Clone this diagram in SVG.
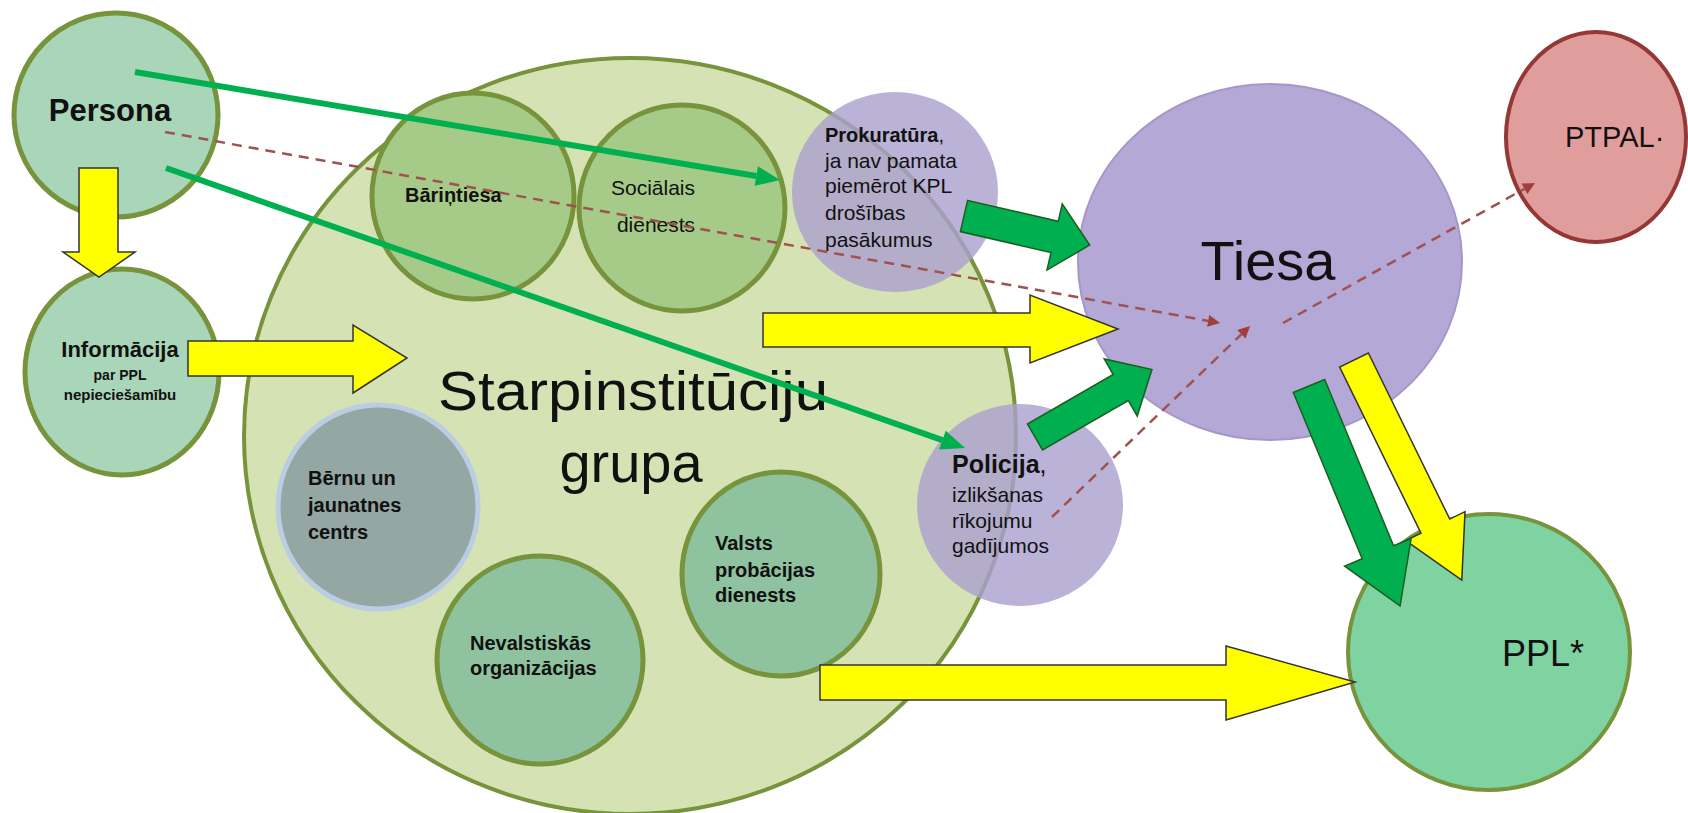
<svg xmlns="http://www.w3.org/2000/svg" width="1688" height="813" viewBox="0 0 1688 813">
<style>
text{font-family:"Liberation Sans",Arial,sans-serif;fill:#111;}
.b{font-weight:bold;}
.n20{font-size:20px;}
.n21{font-size:21px;}
.olive{stroke:#77933C;stroke-width:5;}
.pale{fill:#A9D6B8;}
.mid{fill:#A6CB88;}
.teal{fill:#8FC3A0;}
.purp{fill:#ABA1CE;fill-opacity:0.82;}
.yel{fill:#FFFF00;stroke:#333;stroke-width:1.5;stroke-linejoin:miter;}
.grn{fill:#00B050;stroke:#1B5E20;stroke-width:1.5;}
.gline{stroke:#00B050;stroke-width:6;fill:none;}
.dash{stroke:#A05250;stroke-width:2.5;stroke-dasharray:10 7;fill:none;}
</style>
<defs>
<marker id="gh" viewBox="-1 -12 27 24" markerWidth="27" markerHeight="24" refX="0" refY="0" orient="auto" markerUnits="userSpaceOnUse">
<path d="M0,-10 L24,0 L0,10 z" fill="#00B050"/>
</marker>
<marker id="dh" viewBox="-1 -7 14 14" markerWidth="14" markerHeight="14" refX="0" refY="0" orient="auto" markerUnits="userSpaceOnUse">
<path d="M0,-6 L12,0 L0,6 z" fill="#A03E3C"/>
</marker>
</defs>
<rect width="1688" height="813" fill="#FFFFFF"/>

<g id="persona">
<ellipse cx="116" cy="115" rx="102" ry="102" class="pale olive"/>
<text x="110" y="121" class="b" font-size="31" text-anchor="middle">Persona</text>
</g>
<g id="informacija">
<ellipse cx="122" cy="372" rx="97" ry="103" class="pale olive"/>
<text x="120" y="357" class="b" font-size="22" text-anchor="middle">Informācija</text>
<text x="120" y="380" class="b" font-size="14" text-anchor="middle">par PPL</text>
<text x="120" y="400" class="b" font-size="15" text-anchor="middle">nepieciešamību</text>
</g>

<g id="starpinstituciju-grupa">
<ellipse cx="630" cy="436" rx="386" ry="378" fill="#D5E2B4" stroke="#77933C" stroke-width="4"/>
<text x="633" y="410" font-size="56" text-anchor="middle" textLength="390" lengthAdjust="spacingAndGlyphs">Starpinstitūciju</text>
<text x="631" y="482" font-size="56" text-anchor="middle">grupa</text>
</g>
<g id="barintiesa">
<ellipse cx="473" cy="196" rx="101" ry="103" class="mid olive"/>
<text x="405" y="202" class="b n20">Bāriņtiesa</text>
</g>
<g id="socialais-dienests">
<ellipse cx="682" cy="208" rx="103" ry="103" class="mid olive"/>
<text x="653" y="195" class="n21" text-anchor="middle">Sociālais</text>
<text x="656" y="232" class="n21" text-anchor="middle">dienests</text>
</g>
<g id="bernu-jaunatnes-centrs">
<ellipse cx="378" cy="507" rx="100" ry="102" fill="#94A7A3" stroke="#BACDE3" stroke-width="5"/>
<text x="308" y="485" class="b n20">Bērnu un</text>
<text x="308" y="512" class="b n20">jaunatnes</text>
<text x="308" y="539" class="b n20">centrs</text>
</g>
<g id="nevalstiskas-organizacijas">
<ellipse cx="540" cy="660" rx="103" ry="104" class="teal olive"/>
<text x="470" y="650" class="b n20">Nevalstiskās</text>
<text x="470" y="675" class="b n20">organizācijas</text>
</g>
<g id="valsts-probacijas-dienests">
<ellipse cx="781" cy="574" rx="99" ry="102" class="teal olive"/>
<text x="715" y="550" class="b n20">Valsts</text>
<text x="715" y="577" class="b n20">probācijas</text>
<text x="715" y="602" class="b n20">dienests</text>
</g>
<g id="prokuratura">
<ellipse cx="895" cy="192" rx="103" ry="100" class="purp"/>
<text x="825" y="142" font-size="20"><tspan class="b">Prokuratūra</tspan>,</text>
<text x="825" y="168" class="n21">ja nav pamata</text>
<text x="825" y="193" class="n21">piemērot KPL</text>
<text x="825" y="220" class="n21">drošības</text>
<text x="825" y="247" class="n21">pasākumus</text>
</g>
<g id="policija">
<ellipse cx="1020" cy="505" rx="103" ry="101" class="purp"/>
<text x="952" y="473" font-size="25"><tspan class="b">Policija</tspan>,</text>
<text x="952" y="502" class="n21">izlikšanas</text>
<text x="952" y="528" class="n21">rīkojumu</text>
<text x="952" y="553" class="n21">gadījumos</text>
</g>
<g id="tiesa">
<ellipse cx="1270" cy="262" rx="192" ry="178" fill="#B4A8D6" stroke="#A597C8" stroke-width="2"/>
<text x="1268" y="280" font-size="56" text-anchor="middle">Tiesa</text>
</g>
<g id="ptpal">
<ellipse cx="1596" cy="137" rx="90" ry="105" fill="#DF9E9C" stroke="#953735" stroke-width="4"/>
<text x="1565" y="147" font-size="29">PTPAL·</text>
</g>
<g id="ppl">
<ellipse cx="1489" cy="652" rx="141" ry="138" fill="#7FD3A0" stroke="#77933C" stroke-width="4"/>
<text x="1502" y="666" font-size="36">PPL*</text>
</g>

<g id="connectors">
<line x1="135" y1="72" x2="756.3" y2="176" class="gline" marker-end="url(#gh)"/>
<line x1="166" y1="168" x2="942.4" y2="440.1" class="gline" marker-end="url(#gh)"/>
<line x1="165" y1="132" x2="1208.2" y2="320.9" class="dash" marker-end="url(#dh)"/>
<line x1="1052" y1="517" x2="1241.4" y2="334.3" class="dash" marker-end="url(#dh)"/>
<line x1="1283" y1="323" x2="1524.5" y2="188.8" class="dash" marker-end="url(#dh)"/>
<polygon class="yel" points="79,168 118,168 118,252 135,252 99,277 63,252 79,252"/>
<polygon class="yel" points="188,341 353,341 353,325 407,358 353,393 353,376 188,376"/>
<polygon class="yel" points="763,313 1030,313 1030,295 1118,329 1030,363 1030,347 763,347"/>
<polygon class="yel" points="820,665 1226,665 1226,646 1355,682 1226,720 1226,700 820,700"/>
<polygon class="grn" points="0,-16 93,-16 93,-34 129,0 93,34 93,16 0,16" transform="translate(964,216) rotate(13)"/>
<polygon class="grn" points="0,-15 99,-15 99,-33 135,0 99,33 99,15 0,15" transform="translate(1035,437) rotate(-30)"/>
<polygon class="yel" points="0,-16 185,-16 185,-33 245,0 185,33 185,16 0,16" transform="translate(1354,360) rotate(63.9)"/>
<polygon class="grn" points="0,-17 180,-17 180,-36 238,0 180,36 180,17 0,17" transform="translate(1309,386) rotate(67.5)"/>
</g>
</svg>
